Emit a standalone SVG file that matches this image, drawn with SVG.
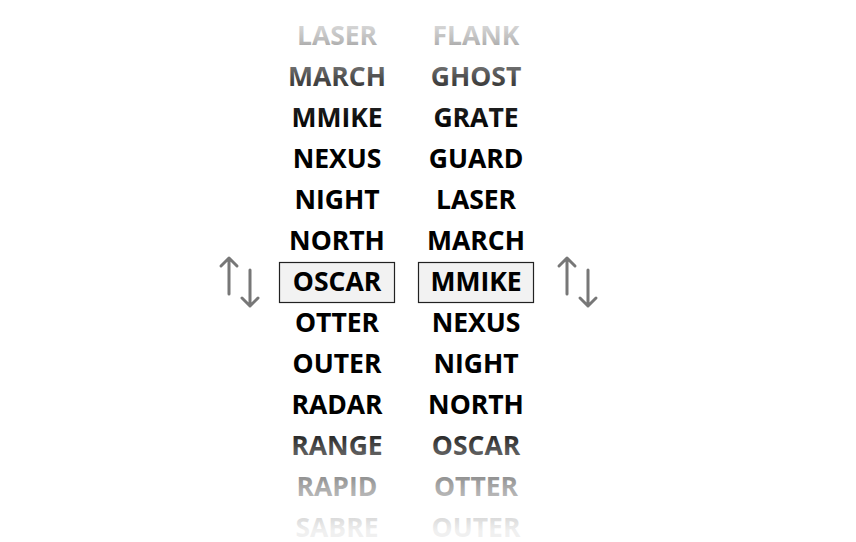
<svg xmlns="http://www.w3.org/2000/svg" width="856" height="542" viewBox="0 0 856 542">
<defs>
<linearGradient id="fade" gradientUnits="userSpaceOnUse" x1="0" y1="0" x2="0" y2="542">
<stop offset="0.04" stop-color="#dddddd"/>
<stop offset="0.075" stop-color="#bbbbbb"/>
<stop offset="0.15" stop-color="#444444"/>
<stop offset="0.24" stop-color="#000000"/>
<stop offset="0.78" stop-color="#000000"/>
<stop offset="0.83" stop-color="#555555"/>
<stop offset="0.9" stop-color="#aaaaaa"/>
<stop offset="0.98" stop-color="#f0f0f0"/>
</linearGradient>
</defs>
<style>
text{font-family:"Open Sans","DejaVu Sans",sans-serif;font-weight:700;font-size:26.5px;text-anchor:middle;fill:url(#fade)}
.box{fill:#f2f2f2;stroke:#222;stroke-width:1.2}
.arr{fill:none;stroke:#777;stroke-width:3;stroke-linecap:round;stroke-linejoin:round}
</style>
<rect width="856" height="542" fill="#fff"/>
<g id="highlight">
<rect class="box" x="279.5" y="262.5" width="115" height="40"/>
<rect class="box" x="418.5" y="262.5" width="115" height="40"/>
</g>
<g id="col1">
<text x="337" y="45">LASER</text>
<text x="337" y="86">MARCH</text>
<text x="337" y="127">MMIKE</text>
<text x="337" y="168">NEXUS</text>
<text x="337" y="209">NIGHT</text>
<text x="337" y="250">NORTH</text>
<text x="337" y="291">OSCAR</text>
<text x="337" y="332">OTTER</text>
<text x="337" y="373">OUTER</text>
<text x="337" y="414">RADAR</text>
<text x="337" y="455">RANGE</text>
<text x="337" y="496">RAPID</text>
<text x="337" y="537">SABRE</text>
</g>
<g id="col2">
<text x="476" y="45">FLANK</text>
<text x="476" y="86">GHOST</text>
<text x="476" y="127">GRATE</text>
<text x="476" y="168">GUARD</text>
<text x="476" y="209">LASER</text>
<text x="476" y="250">MARCH</text>
<text x="476" y="291">MMIKE</text>
<text x="476" y="332">NEXUS</text>
<text x="476" y="373">NIGHT</text>
<text x="476" y="414">NORTH</text>
<text x="476" y="455">OSCAR</text>
<text x="476" y="496">OTTER</text>
<text x="476" y="537">OUTER</text>
</g>
<g id="connectors">
<path class="arr" d="M229 294V258M221 266L229 258L237 266"/>
<path class="arr" d="M250 270V306M242 298L250 306L258 298"/>
<path class="arr" d="M567 294V258M559 266L567 258L575 266"/>
<path class="arr" d="M588 270V306M580 298L588 306L596 298"/>
</g>
</svg>
